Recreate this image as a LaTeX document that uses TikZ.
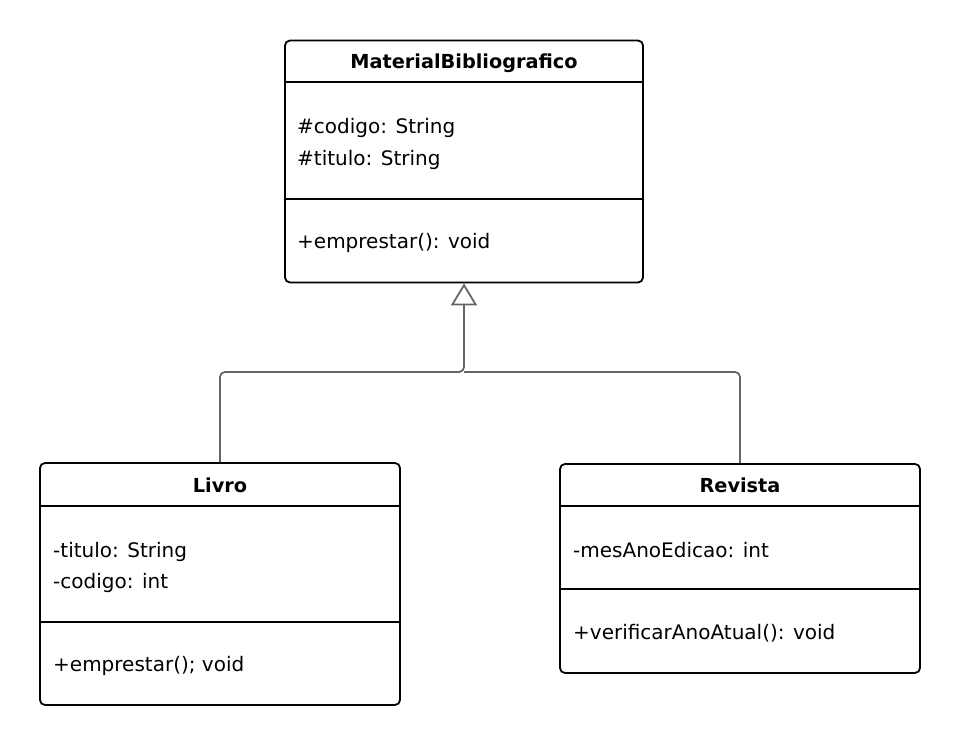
\documentclass[tikz,border=0pt]{standalone}
\usepackage{fontspec}
\setmainfont{DejaVu Sans}
\usetikzlibrary{arrows.meta}

\begin{document}
\begin{tikzpicture}[x=1pt,y=-1pt,
  classbox/.style={draw=black, line width=1.8pt, rounded corners=5pt, fill=white, inner sep=0pt},
  sepline/.style={draw=black, line width=1.8pt},
  member/.style={anchor=base west, inner sep=0pt, font=\fontsize{20}{24}\selectfont},
  classname/.style={anchor=base, inner sep=0pt, font=\fontsize{19.3}{23}\selectfont\bfseries},
  inherit/.style={draw=black!60, line width=1.8pt, rounded corners=5pt}
]
% Parameters
\def\inset{13};
\def\lineGap{31};

\useasboundingbox (0,0) rectangle (960,746);

% Classes
\node[classbox, minimum width=358pt, minimum height=242pt] (material) at (464,161.5) {};
\node[classbox, minimum width=360pt, minimum height=242pt] (livro) at (220,584) {};
\node[classbox, minimum width=360pt, minimum height=209pt] (revista) at (740,568.5) {};

% Compartments
\draw[sepline] (material.west |- 0,82) -- (material.east |- 0,82);
\draw[sepline] (material.west |- 0,199) -- (material.east |- 0,199);
\draw[sepline] (livro.west |- 0,506) -- (livro.east |- 0,506);
\draw[sepline] (livro.west |- 0,622) -- (livro.east |- 0,622);
\draw[sepline] (revista.west |- 0,506) -- (revista.east |- 0,506);
\draw[sepline] (revista.west |- 0,589) -- (revista.east |- 0,589);

% Names
\node[classname] (materialName) at (464,69) {MaterialBibliografico};
\node[classname] (livroName) at (220,492) {Livro};
\node[classname] (revistaName) at (740,492) {Revista};

% Members
\node[member] (mCodigo) at (284+\inset,134) {\#codigo: String};
\node[member] (mTitulo) at (284+\inset,134+\lineGap) {\#titulo: String};
\node[member] (mEmprestar) at (284+\inset,248) {+emprestar(): void};

\node[member] (lTitulo) at (40+\inset,557) {-titulo: String};
\node[member] (lCodigo) at (40+\inset,557+\lineGap) {-codigo: int};
\node[member] (lEmprestar) at (40+\inset,671) {+emprestar(); void};

\node[member] (rMes) at (560+\inset,557) {-mesAnoEdicao: int};
\node[member] (rVerificar) at (560+\inset,639) {+verificarAnoAtual(): void};

% Inheritance
\coordinate (junction) at (464,372);
\draw[inherit, -{Triangle[open, length=22pt, width=26pt, line width=1.8pt]}] (livro.north) |- (junction) -- (material.south);
\draw[inherit] (revista.north) |- (junction);

\end{tikzpicture}
\end{document}
